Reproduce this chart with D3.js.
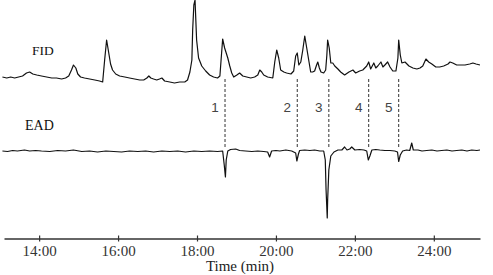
<!DOCTYPE html>
<html>
<head>
<meta charset="utf-8">
<script src="https://cdn.jsdelivr.net/npm/d3@7"></script>
<style>
  body { margin: 0; background: #fff; }
</style>
</head>
<body>
<div id="chart"></div>
<script>
// FID trace: [retention time (min), response]
const fidTrace = [
  [13.07, 3], [13.18, 2], [13.28, 3], [13.38, 2], [13.48, 3], [13.58, 4], [13.68, 7], [13.76, 8],
  [13.84, 6], [13.94, 5], [14.06, 4], [14.19, 3], [14.32, 2], [14.44, 2], [14.57, 1], [14.67, 2],
  [14.75, 4], [14.82, 10], [14.87, 15], [14.93, 12], [14.98, 6], [15.05, 3], [15.15, 2], [15.28, 1],
  [15.41, 0], [15.53, -1], [15.61, -2], [15.66, 20], [15.71, 40], [15.76, 28], [15.81, 16], [15.86, 10],
  [15.94, 6], [16.04, 4], [16.17, 3], [16.29, 2], [16.42, 1], [16.55, 0], [16.65, 0], [16.73, 2],
  [16.78, 4], [16.83, 2], [16.9, 1], [16.98, 0], [17.05, 1], [17.11, 2], [17.18, -1], [17.31, -2],
  [17.43, -3], [17.56, -2], [17.69, -2], [17.76, 0], [17.82, 8], [17.87, 20], [17.89, 50], [17.92, 75],
  [17.95, 80], [17.99, 40], [18.04, 22], [18.12, 14], [18.22, 9], [18.32, 5], [18.42, 3], [18.52, 2],
  [18.58, 4], [18.61, 20], [18.65, 41], [18.7, 32], [18.78, 22], [18.83, 14], [18.88, 7], [18.93, 3],
  [19.01, 5], [19.08, 7], [19.16, 4], [19.26, 3], [19.36, 2], [19.46, 3], [19.54, 5], [19.59, 10],
  [19.64, 8], [19.69, 5], [19.79, 3], [19.92, 2], [19.97, 18], [20.02, 30], [20.07, 22], [20.12, 10],
  [20.2, 8], [20.27, 7], [20.38, 6], [20.45, 9], [20.5, 24], [20.54, 27], [20.58, 15], [20.63, 18],
  [20.68, 30], [20.73, 44], [20.78, 32], [20.83, 20], [20.88, 8], [20.93, 8], [20.98, 9], [21.03, 15],
  [21.06, 18], [21.1, 12], [21.14, 8], [21.21, 7], [21.26, 10], [21.29, 25], [21.31, 40], [21.35, 32],
  [21.39, 17], [21.44, 17], [21.49, 14], [21.57, 11], [21.64, 8], [21.74, 5], [21.85, 8], [21.95, 10],
  [22.02, 7], [22.12, 9], [22.2, 10], [22.25, 12], [22.3, 14], [22.35, 18], [22.4, 11], [22.48, 17],
  [22.53, 12], [22.58, 14], [22.66, 18], [22.71, 13], [22.76, 15], [22.83, 18], [22.89, 13], [22.96, 9],
  [23.04, 9], [23.09, 22], [23.11, 40], [23.15, 25], [23.19, 17], [23.27, 18], [23.37, 14], [23.47, 12],
  [23.57, 11], [23.65, 12], [23.72, 14], [23.8, 21], [23.87, 18], [23.95, 16], [24.05, 13], [24.15, 13],
  [24.25, 14], [24.36, 16], [24.41, 18], [24.48, 17], [24.58, 15], [24.69, 15], [24.79, 15], [24.91, 16],
  [24.99, 17], [25.07, 16], [25.17, 15]
];

// EAD trace: [retention time (min), antennal response]
const eadTrace = [
  [13.07, 0], [13.2, -0.5], [13.33, 0.5], [13.45, 0], [13.63, 1], [13.76, 0], [13.91, 0.5], [14.06, 0],
  [14.27, -0.5], [14.47, 0.5], [14.67, 0], [14.87, 1], [15.08, -0.5], [15.28, 0], [15.48, -1], [15.69, 0],
  [15.89, -0.5], [16.09, -1], [16.29, 0], [16.5, -0.5], [16.7, 0], [16.9, -1], [17.11, 0], [17.31, -0.5],
  [17.51, 0], [17.71, -1], [17.92, 0], [18.12, -0.5], [18.32, 0], [18.52, -0.5], [18.65, 0], [18.69, -14],
  [18.72, -26], [18.74, -9], [18.78, 0], [18.85, 1.5], [18.98, 2], [19.08, 0.5], [19.23, 0], [19.39, -0.5],
  [19.54, 0], [19.69, -0.5], [19.79, -1], [19.84, -6], [19.89, 0], [20.0, 0.5], [20.1, 0], [20.25, 1],
  [20.4, 0], [20.5, -2], [20.53, -10], [20.57, -3], [20.6, 0.5], [20.73, 1], [20.86, 0.5], [20.98, 1],
  [21.11, 0], [21.21, 0], [21.25, -9], [21.27, -39], [21.3, -67], [21.31, -49], [21.34, -19], [21.39, -5],
  [21.47, -1], [21.57, 1], [21.67, 1], [21.74, 4], [21.8, 1], [21.87, 2], [21.92, 4], [22.0, 1],
  [22.12, 1.5], [22.23, 1], [22.3, 0], [22.34, -9], [22.38, -5], [22.43, 1], [22.53, 1.5], [22.63, 1],
  [22.76, 0.5], [22.89, 0.5], [23.01, 0], [23.08, -1], [23.11, -10.5], [23.15, -4], [23.21, 0], [23.31, 1],
  [23.39, 0.5], [23.44, 8], [23.48, 1], [23.6, 1], [23.7, 0], [23.82, 0.5], [23.95, 1], [24.08, 0],
  [24.2, 0.5], [24.33, 1], [24.46, 0], [24.58, 0.5], [24.71, 1], [24.84, 0], [24.96, 1], [25.09, 0.5],
  [25.17, 1]
];

// EAD-active compounds
const activeLabels = ["1", "2", "3", "4", "5"];
const activeTimes = [18.71, 20.54, 21.34, 22.35, 23.11];

const tickValues = [14, 16, 18, 20, 22, 24];
const tickLabels = ["14:00", "16:00", "18:00", "20:00", "22:00", "24:00"];

const width = 493;
const height = 275;

const svg = d3.select("#chart")
  .append("svg")
  .attr("width", width)
  .attr("height", height);

// scales
const x = d3.scaleLinear().domain([13.11, 25.17]).range([4, 480]);
const yFid = d3.scaleLinear().domain([0, 80]).range([80, 0]);
const yEad = d3.scaleLinear().domain([-70, 0]).range([221, 151]);

// dashed guides
svg.selectAll(".guide")
  .data(activeTimes)
  .join("line")
  .attr("class", "guide")
  .attr("x1", d => x(d))
  .attr("x2", d => x(d))
  .attr("y1", yFid(1))
  .attr("y2", yEad(4))
  .attr("stroke", "#333")
  .attr("stroke-width", 1)
  .attr("stroke-dasharray", "3,2");

// numbers
svg.selectAll(".num")
  .data(activeTimes)
  .join("text")
  .attr("class", "num")
  .attr("x", d => x(d) - 10)
  .attr("y", 112)
  .attr("text-anchor", "middle")
  .style("font-family", "Liberation Sans, Arial, sans-serif")
  .style("font-size", "13.5px")
  .style("fill", "#444")
  .text((d, i) => activeLabels[i]);

// traces
const fidLine = d3.line().x(d => x(d[0])).y(d => yFid(d[1]));
const eadLine = d3.line().x(d => x(d[0])).y(d => yEad(d[1]));

svg.append("path")
  .datum(fidTrace)
  .attr("fill", "none")
  .attr("stroke", "#111")
  .attr("stroke-width", 1.2)
  .attr("stroke-linejoin", "round")
  .attr("d", fidLine);

svg.append("path")
  .datum(eadTrace)
  .attr("fill", "none")
  .attr("stroke", "#111")
  .attr("stroke-width", 1.2)
  .attr("stroke-linejoin", "round")
  .attr("d", eadLine);

// trace names
svg.append("text")
  .attr("x", 32)
  .attr("y", 55)
  .style("font-family", "Liberation Serif, Times New Roman, serif")
  .style("font-size", "13.5px")
  .style("fill", "#111")
  .text("FID");

svg.append("text")
  .attr("x", 25)
  .attr("y", 130)
  .style("font-family", "Liberation Serif, Times New Roman, serif")
  .style("font-size", "14px")
  .style("fill", "#111")
  .text("EAD");

// x axis
const xAxis = svg.append("g")
  .attr("transform", "translate(0,238.5)")
  .call(d3.axisBottom(x)
    .tickValues(tickValues)
    .tickFormat((d, i) => tickLabels[i])
    .tickSizeOuter(0));

xAxis.select(".domain").attr("stroke", "#333").attr("stroke-width", 1.3);
xAxis.selectAll(".tick line")
  .attr("y1", -3)
  .attr("y2", 3)
  .attr("stroke", "#333")
  .attr("stroke-width", 1.2);
xAxis.selectAll(".tick text")
  .attr("y", 6.5)
  .style("font-family", "Liberation Serif, Times New Roman, serif")
  .style("font-size", "15px")
  .style("fill", "#333");

// axis title
svg.append("text")
  .attr("x", 240)
  .attr("y", 271)
  .attr("text-anchor", "middle")
  .style("font-family", "Liberation Serif, Times New Roman, serif")
  .style("font-size", "15px")
  .style("fill", "#222")
  .text("Time (min)");
</script>
</body>
</html>
